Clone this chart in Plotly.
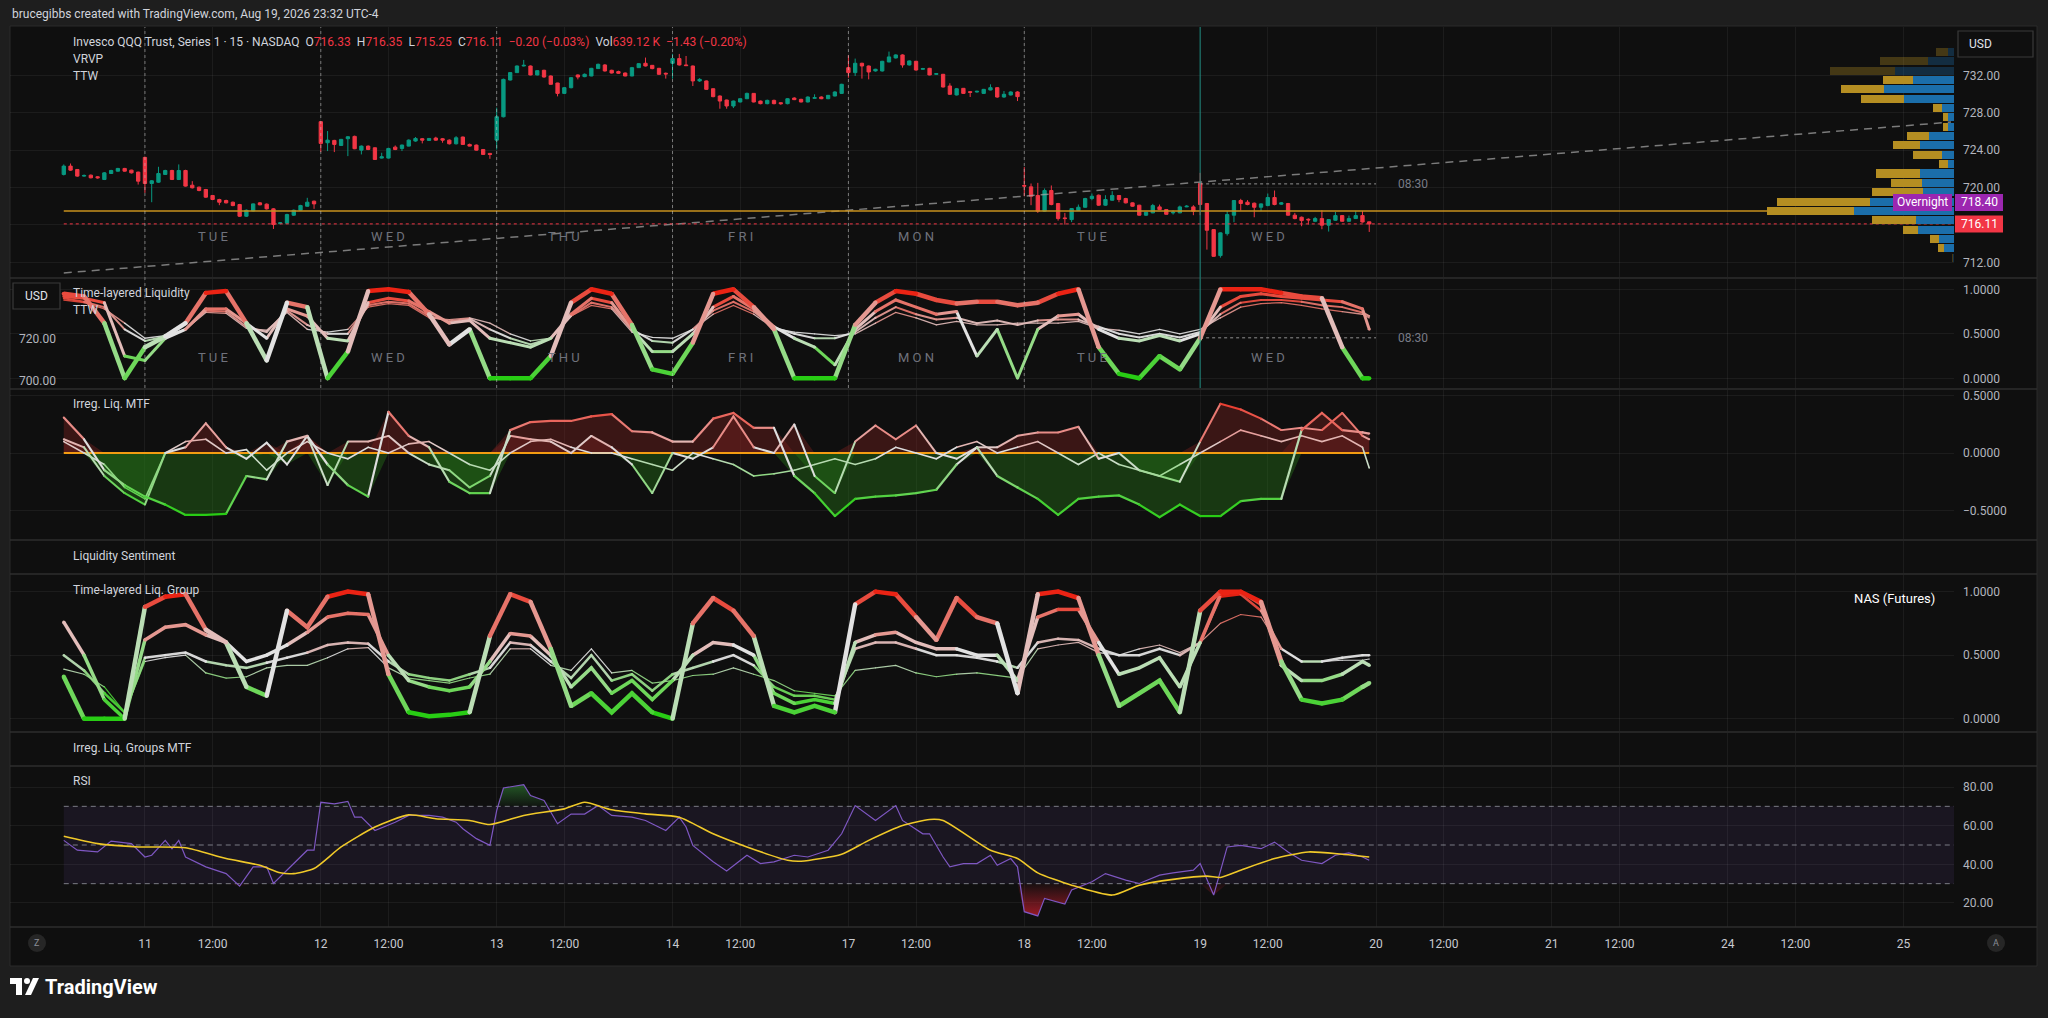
import plotly.graph_objects as go

W, H = 2048, 1018
FONT = "Roboto, 'Noto Sans', sans-serif"
PAGE = "#1e1e1e"
BG = "#0f0f0f"
GRID = "rgba(255,255,255,0.055)"
AXTXT = "#b2b5be"
UP = "#089981"
DN = "#f23645"

# ---------------- price data : QQQ 15-min, regular session (26 bars / day) ----------------
# bar 0 = Aug 10 13:00, bar 12 = Aug 11 09:30, bar 193 = Aug 19 15:45
opens = [721.40, 722.29, 721.93, 721.22, 721.32, 721.15, 720.86, 721.50, 721.75, 722.04,
         721.86, 721.65, 723.22, 720.43, 720.57, 721.40, 721.82, 720.86, 721.82, 720.25,
         720.04, 719.79, 719.15, 718.72, 718.61, 718.43, 718.18, 716.93, 717.50, 718.36,
         718.22, 717.72, 716.15, 716.18, 717.04, 717.57, 718.00, 718.54, 727.04, 724.79,
         725.04, 724.50, 725.22, 725.47, 724.00, 724.43, 724.25, 723.15, 723.15, 724.32,
         724.18, 724.43, 724.97, 725.22, 725.04, 725.29, 725.22, 725.07, 724.68, 725.40,
         724.61, 724.54, 724.07, 723.65, 725.07, 727.57, 731.50, 732.29, 733.00, 733.00,
         732.04, 732.54, 731.93, 731.18, 730.07, 730.68, 732.04, 731.86, 731.93, 732.72,
         733.11, 732.54, 732.40, 732.25, 731.93, 732.82, 733.29, 733.07, 732.75, 732.22,
         733.29, 733.79, 733.11, 733.00, 731.40, 731.40, 730.57, 729.79, 729.36, 728.72,
         729.15, 729.50, 730.07, 729.25, 728.97, 729.32, 729.07, 728.97, 729.57, 729.43,
         729.15, 729.54, 729.68, 729.50, 729.79, 730.07, 732.82, 732.29, 733.29, 733.00,
         732.47, 732.47, 733.43, 733.86, 734.18, 733.11, 733.50, 732.65, 732.75, 732.11,
         732.11, 730.86, 729.90, 730.61, 730.25, 730.22, 730.07, 730.43, 730.68, 729.68,
         729.90, 730.22, 720.22, 720.07, 719.15, 717.47, 719.68, 718.29, 716.75, 716.57,
         717.54, 717.89, 718.82, 719.18, 718.11, 718.64, 719.15, 718.82, 718.36, 718.11,
         717.04, 717.29, 717.93, 717.64, 717.29, 717.29, 717.93, 717.93, 720.43, 718.29,
         715.50, 712.72, 715.07, 717.04, 718.61, 718.43, 718.32, 717.89, 718.07, 718.93,
         718.22, 718.29, 717.04, 716.82, 716.61, 716.39, 716.68, 715.97, 716.50, 717.00,
         716.39, 716.68, 717.00, 716.33]
highs = [722.47, 722.57, 721.97, 721.40, 721.40, 721.22, 721.65, 721.90, 722.10, 722.10,
         721.90, 721.70, 723.30, 720.80, 722.22, 721.90, 721.90, 722.47, 721.90, 720.68,
         720.10, 719.85, 719.20, 718.80, 718.70, 718.50, 718.25, 717.65, 718.30, 718.45,
         718.30, 717.80, 716.30, 717.20, 717.65, 718.15, 718.90, 718.60, 727.10, 726.04,
         725.10, 725.20, 725.50, 725.55, 724.50, 724.50, 724.30, 723.72, 724.25, 724.50,
         724.60, 725.15, 725.40, 725.30, 725.30, 725.43, 725.30, 725.15, 725.50, 725.45,
         724.70, 724.60, 724.10, 723.70, 728.54, 731.65, 732.35, 733.05, 733.65, 733.05,
         732.55, 732.60, 732.00, 731.20, 730.75, 731.80, 732.10, 732.20, 732.80, 733.25,
         733.20, 732.60, 732.50, 732.30, 732.90, 733.30, 733.90, 733.10, 732.80, 732.30,
         734.29, 734.29, 734.07, 733.05, 731.70, 731.45, 730.60, 729.85, 729.40, 729.30,
         729.55, 730.15, 730.10, 729.30, 729.40, 729.40, 729.10, 729.55, 729.65, 729.50,
         729.75, 729.97, 729.75, 729.90, 730.30, 731.10, 734.14, 733.79, 733.35, 733.05,
         732.70, 733.55, 734.54, 734.25, 734.25, 733.60, 733.55, 732.80, 732.80, 732.25,
         732.15, 731.15, 730.65, 730.65, 730.30, 730.35, 730.55, 731.04, 730.75, 730.32,
         730.30, 730.30, 722.18, 720.43, 720.50, 719.90, 720.22, 718.35, 717.29, 717.80,
         718.18, 718.90, 719.36, 719.25, 719.18, 719.61, 719.20, 718.90, 718.40, 718.15,
         717.40, 718.25, 718.18, 717.70, 717.57, 718.07, 718.11, 718.11, 721.57, 718.35,
         715.55, 715.20, 717.47, 718.65, 718.79, 718.65, 718.40, 718.30, 719.36, 719.68,
         718.45, 718.35, 717.29, 716.90, 716.70, 716.86, 717.57, 716.60, 717.39, 717.05,
         717.00, 717.47, 717.50, 716.35]
lows = [721.29, 721.79, 721.15, 721.15, 720.98, 720.95, 720.80, 721.45, 721.70, 721.70,
        721.50, 720.32, 719.43, 718.43, 720.50, 721.35, 720.80, 720.80, 720.10, 719.90,
        719.60, 718.90, 718.65, 718.11, 718.30, 718.00, 716.85, 716.85, 717.45, 718.10,
        717.65, 715.57, 716.05, 716.10, 716.95, 717.50, 717.95, 717.72, 723.79, 723.90,
        723.79, 724.45, 723.36, 724.10, 723.54, 724.00, 722.95, 723.10, 723.10, 724.00,
        723.90, 724.40, 724.90, 724.72, 725.00, 725.00, 724.79, 724.60, 724.60, 724.55,
        724.40, 723.95, 723.50, 723.07, 724.07, 727.50, 731.45, 732.25, 732.95, 732.00,
        732.00, 731.75, 731.00, 729.75, 730.00, 730.60, 731.57, 731.80, 731.90, 732.70,
        732.40, 732.20, 732.15, 731.90, 731.90, 732.80, 732.95, 732.65, 732.05, 731.65,
        731.65, 733.05, 733.00, 730.86, 731.30, 730.45, 729.65, 728.43, 728.43, 728.50,
        729.10, 729.45, 729.10, 728.90, 728.90, 728.90, 728.85, 728.90, 729.35, 729.10,
        729.10, 729.50, 729.45, 729.45, 729.75, 730.00, 731.75, 731.93, 731.65, 731.57,
        732.40, 732.40, 733.40, 733.80, 732.82, 733.05, 732.50, 732.60, 732.00, 732.05,
        730.70, 729.90, 729.85, 730.00, 729.68, 730.15, 730.00, 730.40, 729.60, 729.60,
        729.85, 729.25, 719.07, 718.11, 717.29, 717.40, 718.10, 716.46, 716.04, 716.30,
        717.50, 717.85, 718.64, 718.05, 718.05, 718.60, 718.43, 718.30, 717.95, 717.00,
        716.95, 717.25, 717.60, 717.10, 717.11, 717.25, 717.90, 717.04, 717.04, 713.36,
        712.60, 712.50, 714.86, 716.29, 717.54, 718.10, 716.82, 717.47, 718.00, 718.10,
        718.15, 717.00, 716.60, 715.86, 716.04, 716.30, 715.54, 715.29, 716.45, 716.35,
        716.35, 716.65, 716.25, 715.25]
closes = [722.29, 721.86, 721.22, 721.29, 721.04, 721.04, 721.57, 721.82, 722.04, 721.75,
          721.57, 720.68, 720.43, 720.72, 721.50, 721.82, 720.86, 721.82, 720.15, 719.97,
          719.68, 718.97, 718.72, 718.43, 718.36, 718.07, 716.93, 717.57, 718.25, 718.15,
          717.72, 716.04, 716.22, 717.11, 717.57, 718.07, 718.43, 718.25, 724.72, 725.07,
          724.61, 725.15, 725.43, 724.15, 724.43, 724.07, 723.00, 723.29, 724.18, 724.07,
          724.54, 725.07, 725.25, 725.07, 725.25, 725.07, 725.07, 724.68, 725.32, 724.61,
          724.43, 724.00, 723.54, 723.54, 727.57, 731.57, 732.29, 733.00, 733.07, 732.04,
          732.50, 731.82, 731.04, 730.07, 730.68, 731.75, 731.82, 732.11, 732.75, 733.18,
          732.47, 732.25, 732.22, 731.93, 732.82, 733.25, 733.00, 732.72, 732.11, 732.15,
          733.79, 733.11, 733.04, 731.40, 731.57, 730.50, 729.72, 729.25, 728.72, 729.25,
          729.50, 730.07, 729.15, 728.97, 729.32, 728.97, 728.97, 729.50, 729.40, 729.15,
          729.68, 729.61, 729.50, 729.86, 730.22, 731.04, 732.29, 733.29, 733.00, 732.36,
          732.65, 733.50, 733.97, 734.18, 733.11, 733.54, 732.57, 732.72, 732.04, 732.18,
          730.75, 729.97, 730.57, 730.07, 730.18, 730.29, 730.50, 730.68, 729.68, 729.97,
          730.22, 729.72, 720.15, 719.07, 717.47, 719.68, 718.18, 716.68, 716.68, 717.75,
          717.89, 718.82, 719.07, 718.11, 718.72, 719.15, 718.72, 718.36, 718.00, 717.04,
          717.36, 718.07, 717.64, 717.14, 717.36, 717.93, 718.00, 717.47, 718.18, 715.43,
          712.64, 715.15, 717.11, 718.61, 718.29, 718.18, 717.89, 718.25, 718.93, 718.18,
          718.36, 717.04, 716.68, 716.46, 716.54, 716.68, 715.97, 716.57, 717.00, 716.39,
          716.68, 717.00, 716.31, 716.11]
vol_last = "639.12 K"
vol_change = "-1.43 (-0.20%)"

# sessions / time axis
first_day_bar = 12
bars_per_day = 26
noon_offset = 10
day_labels = ["11", "12", "13", "14", "17", "18", "19", "20", "21", "24", "25"]
weekday_names = ["TUE", "WED", "THU", "FRI", "MON", "TUE", "WED"]

# levels drawn in the price pane
overnight_level = 718.40
open_830_price = 720.39
open_830_ttl = 0.455
trend_x = [0, 279]
trend_y = [710.86, 727.0]

# ---------------- VRVP (visible range volume profile) ----------------
vp_price = [734.5, 733.5, 732.5, 731.5, 730.5, 729.5, 728.5, 727.5, 726.5, 725.5, 724.5, 723.5,
            722.5, 721.5, 720.5, 719.5, 718.5, 717.5, 716.5, 715.5, 714.5, 713.5, 712.5]
vp_up = [17, 77, 177, 123, 210, 150, 36, 18, 18, 74, 102, 36, 18, 102, 96, 93, 252, 300, 114, 108, 45, 30, 3]
vp_down = [37, 145, 195, 90, 129, 129, 27, 15, 15, 67, 81, 87, 27, 132, 93, 153, 279, 261, 132, 45, 27, 18, 3]
va_low, va_high = 713.5, 731.5

# ---------------- indicators (sampled every 3 bars) ----------------
ind_x = list(range(0, 193, 3)) + [193]

tl_a = [0.95, 0.92, 0.62, 0.0, 0.35, 0.47, 0.62, 0.96, 0.98, 0.62,
        0.2, 0.85, 0.8, 0.0, 0.3, 0.98, 1.0, 0.97, 0.72, 0.38,
        0.55, 0.0, 0.0, 0.0, 0.25, 0.85, 1.0, 0.95, 0.6, 0.1,
        0.05, 0.4, 0.95, 1.0, 0.8, 0.55, 0.0, 0.0, 0.0, 0.6,
        0.85, 0.98, 0.95, 0.88, 0.84, 0.86, 0.86, 0.82, 0.85, 0.95,
        1.0, 0.35, 0.05, 0.0, 0.25, 0.1, 0.45, 1.0, 1.0, 1.0,
        0.96, 0.92, 0.9, 0.35, 0.0, 0.0]
tl_b = [0.92, 0.9, 0.85, 0.25, 0.2, 0.45, 0.55, 0.78, 0.78, 0.62,
        0.45, 0.78, 0.7, 0.45, 0.42, 0.85, 0.9, 0.87, 0.75, 0.62,
        0.65, 0.45, 0.4, 0.35, 0.45, 0.72, 0.9, 0.85, 0.55, 0.3,
        0.3, 0.5, 0.8, 0.92, 0.78, 0.58, 0.45, 0.35, 0.15, 0.55,
        0.75, 0.88, 0.8, 0.72, 0.75, 0.25, 0.55, 0.0, 0.55, 0.7,
        0.72, 0.55, 0.45, 0.42, 0.48, 0.42, 0.5, 0.8, 0.92, 0.95,
        0.92, 0.9, 0.88, 0.86, 0.78, 0.55]
tl_c = [0.9, 0.86, 0.8, 0.55, 0.42, 0.47, 0.55, 0.76, 0.75, 0.58,
        0.52, 0.76, 0.6, 0.5, 0.5, 0.82, 0.86, 0.84, 0.7, 0.64,
        0.67, 0.55, 0.45, 0.38, 0.45, 0.7, 0.85, 0.8, 0.55, 0.42,
        0.4, 0.55, 0.76, 0.86, 0.75, 0.57, 0.5, 0.45, 0.45, 0.52,
        0.68, 0.8, 0.72, 0.66, 0.68, 0.62, 0.65, 0.6, 0.65, 0.66,
        0.66, 0.58, 0.5, 0.46, 0.5, 0.46, 0.52, 0.72, 0.85, 0.88,
        0.88, 0.86, 0.82, 0.8, 0.74, 0.7]
tl_d = [0.88, 0.85, 0.78, 0.62, 0.45, 0.48, 0.55, 0.74, 0.73, 0.56,
        0.54, 0.74, 0.55, 0.52, 0.55, 0.8, 0.84, 0.82, 0.68, 0.66,
        0.68, 0.62, 0.5, 0.42, 0.45, 0.7, 0.82, 0.78, 0.52, 0.46,
        0.45, 0.55, 0.72, 0.82, 0.72, 0.56, 0.52, 0.5, 0.48, 0.5,
        0.62, 0.74, 0.68, 0.6, 0.64, 0.6, 0.6, 0.62, 0.62, 0.62,
        0.64, 0.56, 0.54, 0.5, 0.55, 0.5, 0.55, 0.68, 0.8, 0.84,
        0.85, 0.82, 0.78, 0.75, 0.72, 0.68]

irr_a = [0.31, 0.12, -0.15, -0.28, -0.38, -0.45, -0.54, -0.54, -0.53, -0.2,
         -0.23, 0.1, 0.15, -0.1, -0.28, -0.38, 0.36, 0.15, 0.05, -0.25,
         -0.35, -0.35, 0.2, 0.27, 0.28, 0.28, 0.32, 0.34, 0.19, 0.18,
         0.1, 0.1, 0.3, 0.35, 0.22, 0.22, -0.2, -0.35, -0.55, -0.4,
         -0.38, -0.37, -0.35, -0.32, -0.1, 0.05, -0.2, -0.3, -0.4, -0.54,
         -0.4, -0.38, -0.37, -0.45, -0.56, -0.45, -0.55, -0.55, -0.42, -0.4,
         -0.4, 0.2, 0.35, 0.2, 0.18, 0.17]
irr_b = [0.12, 0.05, -0.2, -0.35, -0.45, 0.0, 0.05, 0.26, 0.05, -0.05,
         0.09, -0.1, 0.15, -0.28, 0.1, 0.1, 0.15, 0.0, -0.1, -0.15,
         -0.3, -0.2, 0.15, 0.12, 0.1, 0.0, 0.15, 0.05, -0.1, -0.35,
         0.0, -0.05, 0.05, 0.32, 0.05, 0.0, 0.25, -0.2, -0.35, 0.1,
         0.24, 0.12, 0.24, 0.0, -0.05, 0.05, 0.05, 0.15, 0.18, 0.18,
         0.23, -0.05, 0.0, -0.15, -0.2, -0.25, 0.1, 0.43, 0.38, 0.3,
         0.2, 0.22, 0.2, 0.35, 0.15, 0.12]
irr_c = [0.1, 0.0, -0.1, -0.3, -0.4, 0.0, 0.1, 0.12, 0.0, 0.03,
         -0.15, 0.0, 0.1, 0.0, -0.05, 0.05, 0.0, 0.08, 0.1, 0.0,
         -0.1, -0.15, 0.0, 0.1, 0.12, 0.05, 0.0, 0.0, -0.05, -0.1,
         -0.15, 0.0, -0.05, -0.1, -0.2, -0.18, -0.15, -0.1, -0.05, -0.1,
         -0.05, 0.05, 0.0, -0.05, 0.05, 0.1, 0.0, 0.05, 0.1, 0.0,
         -0.1, 0.0, -0.1, -0.15, -0.2, -0.1, 0.0, 0.1, 0.2, 0.15,
         0.1, 0.15, 0.1, 0.15, 0.05, -0.13]

grp_a = [0.33, 0.0, 0.0, 0.0, 0.88, 0.96, 0.98, 0.7, 0.6, 0.25,
         0.18, 0.85, 0.72, 0.96, 1.0, 0.98, 0.35, 0.05, 0.02, 0.03,
         0.05, 0.65, 0.98, 0.92, 0.55, 0.1, 0.2, 0.05, 0.2, 0.05,
         0.0, 0.75, 0.95, 0.85, 0.65, 0.1, 0.05, 0.1, 0.05, 0.9,
         1.0, 0.98, 0.8, 0.62, 0.95, 0.8, 0.75, 0.2, 0.98, 1.0,
         0.95, 0.5, 0.1, 0.2, 0.3, 0.05, 0.85, 1.0, 1.0, 0.92,
         0.45, 0.15, 0.12, 0.15, 0.25, 0.28]
grp_b = [0.76, 0.5, 0.15, 0.0, 0.62, 0.72, 0.74, 0.66, 0.6, 0.45,
         0.5, 0.58, 0.68, 0.8, 0.83, 0.82, 0.5, 0.3, 0.25, 0.22,
         0.25, 0.45, 0.67, 0.65, 0.5, 0.25, 0.4, 0.2, 0.3, 0.15,
         0.3, 0.5, 0.6, 0.58, 0.5, 0.2, 0.12, 0.15, 0.12, 0.6,
         0.66, 0.68, 0.6, 0.55, 0.55, 0.5, 0.5, 0.3, 0.8, 0.86,
         0.86, 0.6, 0.35, 0.4, 0.48, 0.25, 0.6, 0.98, 1.0, 0.9,
         0.42, 0.3, 0.3, 0.35, 0.45, 0.42]
grp_c = [0.5, 0.38, 0.2, 0.05, 0.48, 0.5, 0.52, 0.45, 0.42, 0.4,
         0.44, 0.48, 0.52, 0.58, 0.6, 0.59, 0.45, 0.35, 0.32, 0.3,
         0.35, 0.4, 0.6, 0.58, 0.45, 0.32, 0.5, 0.3, 0.35, 0.22,
         0.35, 0.4, 0.45, 0.5, 0.42, 0.25, 0.18, 0.18, 0.15, 0.55,
         0.6, 0.6, 0.55, 0.5, 0.5, 0.48, 0.45, 0.4, 0.6, 0.63,
         0.62, 0.55, 0.5, 0.5, 0.55, 0.5, 0.6, 0.96, 0.98, 0.85,
         0.55, 0.45, 0.45, 0.48, 0.5, 0.5]
grp_d = [0.39, 0.35, 0.25, 0.05, 0.45, 0.48, 0.5, 0.36, 0.32, 0.33,
         0.4, 0.42, 0.42, 0.48, 0.55, 0.56, 0.4, 0.32, 0.3, 0.28,
         0.32, 0.35, 0.55, 0.55, 0.42, 0.38, 0.55, 0.36, 0.38, 0.28,
         0.3, 0.34, 0.35, 0.4, 0.35, 0.3, 0.22, 0.2, 0.18, 0.38,
         0.4, 0.42, 0.36, 0.33, 0.35, 0.36, 0.34, 0.32, 0.55, 0.58,
         0.6, 0.52, 0.5, 0.55, 0.58, 0.52, 0.6, 0.75, 0.82, 0.8,
         0.55, 0.45, 0.45, 0.46, 0.46, 0.47]

rsi_x = [0, 2, 5, 7, 10, 12, 13, 15, 16, 17, 18, 21, 24, 26, 28, 30, 31, 34, 36, 37,
         38, 40, 42, 43, 44, 46, 49, 51, 54, 56, 58, 59, 61, 63, 64, 65, 68, 69, 71, 73,
         75, 77, 79, 81, 84, 86, 89, 91, 92, 93, 96, 98, 101, 103, 105, 108, 110, 113, 115, 117,
         120, 123, 124, 127, 128, 130, 131, 133, 135, 137, 138, 140, 141, 142, 144, 145, 148, 149, 152, 154,
         157, 159, 162, 164, 167, 168, 170, 172, 174, 177, 179, 181, 183, 186, 188, 190, 192, 193]
rsi_y = [52.4, 47.3, 46.4, 52.0, 50.7, 43.8, 44.7, 52.4, 48.0, 52.4, 43.8, 38.7, 35.2, 28.7, 38.7, 38.7, 30.1, 40.4, 47.3, 47.3,
         72.1, 71.3, 72.6, 64.4, 64.4, 57.5, 61.8, 65.3, 65.3, 64.4, 61.8, 58.4, 53.3, 49.8, 67.8, 79.5, 81.2, 75.6, 73.0, 61.0,
         66.0, 66.0, 70.4, 65.3, 64.4, 62.7, 57.5, 64.4, 59.3, 49.8, 41.3, 36.6, 44.7, 40.4, 41.3, 44.7, 43.8, 47.3, 55.8, 70.4,
         62.7, 70.4, 62.7, 55.8, 55.8, 43.8, 38.7, 40.4, 40.4, 44.7, 39.5, 43.0, 38.7, 15.5, 13.3, 22.4, 19.5, 26.7, 31.0, 35.2,
         31.8, 30.1, 34.4, 35.6, 37.0, 40.4, 24.1, 49.0, 49.8, 48.1, 51.5, 46.4, 42.1, 40.4, 44.7, 45.9, 43.8, 42.1]
rsi_ma_x = [0, 5, 11, 18, 24, 29, 32, 34, 37, 41, 46, 51, 55, 60, 63, 68, 74, 77, 81, 86, 91, 96,
            101, 107, 109, 115, 119, 124, 128, 130, 137, 141, 144, 149, 155, 159, 164, 169, 171, 174, 179, 184, 189, 193]
rsi_ma_y = [54.5, 50.7, 49.0, 48.6, 43.0, 39.5, 35.6, 35.2, 37.8, 49.0, 59.3, 65.6, 63.6, 62.7, 60.6, 65.3, 68.7, 72.1, 68.2, 66.1, 64.4, 55.8,
            49.0, 42.1, 41.6, 45.2, 52.4, 60.1, 63.2, 62.7, 47.3, 43.0, 35.6, 29.2, 24.1, 29.2, 32.2, 33.9, 33.2, 37.0, 43.0, 46.4, 45.2, 43.8]
rsi_upper, rsi_mid, rsi_lower = 70, 50, 30

# ---------------- layout geometry (pixels of the 2048x1018 page) ----------------
def px(x):
    return x / W

def py(y):
    return 1 - y / H

X_DOM = [px(10), px(1954)]
X_RNG = [-7.95, 279.45]
PANES = {1: (27, 277), 2: (279, 388), 3: (390, 539), 4: (541, 573), 5: (575, 731), 6: (733, 765), 7: (767, 927)}
Y_RNG = {1: [710.43, 737.17], 2: [-0.109, 1.116], 3: [-0.75, 0.55], 4: [0, 1], 5: [-0.097, 1.131], 6: [0, 1], 7: [7.58, 90.35]}

bar_idx = list(range(len(opens)))
day_start = [first_day_bar + k * bars_per_day for k in range(len(day_labels))]
tick_pos, tick_txt = [], []
for s, lab in zip(day_start, day_labels):
    tick_pos.append(s)
    tick_txt.append(lab)
    if s + noon_offset <= X_RNG[1]:
        tick_pos.append(s + noon_offset)
        tick_txt.append("12:00")
shown_sessions = day_start[:len(weekday_names)]


def mfmt(v, d):
    return f"{v:.{d}f}".replace("-", "\u2212")


fig = go.Figure()


def scat(x, y, xa, ya, **kw):
    fig.add_trace(go.Scatter(x=x, y=y, xaxis=xa, yaxis=ya, hoverinfo="skip", showlegend=False, **kw))


def lerp_color(v, stops):
    if v <= stops[0][0]:
        return stops[0][1]
    for (p0, c0), (p1, c1) in zip(stops, stops[1:]):
        if v <= p1:
            t = (v - p0) / (p1 - p0)
            return tuple(round(a + (b - a) * t) for a, b in zip(c0, c1))
    return stops[-1][1]


def grad_line(xs, ys, width, xa, ya, stops, step, alpha=1.0):
    runs, cur_bin, cur = [], None, None
    for k in range(len(xs) - 1):
        b = round(((ys[k] + ys[k + 1]) / 2) / step)
        if b != cur_bin:
            if cur:
                runs.append((cur_bin, cur))
            cur_bin, cur = b, ([xs[k]], [ys[k]])
        cur[0].append(xs[k + 1])
        cur[1].append(ys[k + 1])
    runs.append((cur_bin, cur))
    groups = {}
    for b, (rx, ry) in runs:
        g = groups.setdefault(b, ([], []))
        g[0].extend(rx + [None])
        g[1].extend(ry + [None])
    for b, (gx, gy) in groups.items():
        r, g_, bl = lerp_color(b * step, stops)
        col = f"rgba({r},{g_},{bl},{alpha})"
        scat(gx, gy, xa, ya, mode="lines+markers", line=dict(color=col, width=width),
             marker=dict(color=col, size=width * 0.95))


TL_STOPS = [(0.0, (40, 205, 20)), (0.2, (110, 215, 90)), (0.5, (226, 226, 226)), (0.8, (230, 115, 105)), (1.0, (235, 35, 20))]
IRR_STOPS = [(-0.55, (40, 205, 20)), (-0.25, (125, 215, 110)), (0.0, (222, 222, 222)), (0.2, (232, 140, 135)), (0.45, (235, 45, 30))]

# ---------------- price pane ----------------
vp_total = [u + d for u, d in zip(vp_up, vp_down)]
poc = vp_price[vp_total.index(max(vp_total))]
in_va = [va_low <= p <= va_high for p in vp_price]
fig.add_trace(go.Bar(y=vp_price, x=vp_up, orientation="h", width=0.86, xaxis="x8", yaxis="y",
                     marker=dict(color=["#1b6eaa" if f else "rgba(27,110,170,0.32)" for f in in_va], line=dict(width=0)),
                     hoverinfo="skip", showlegend=False))
fig.add_trace(go.Bar(y=vp_price, x=vp_down, orientation="h", width=0.86, xaxis="x8", yaxis="y",
                     marker=dict(color=["#b58e22" if f else "rgba(181,142,34,0.32)" for f in in_va], line=dict(width=0)),
                     hoverinfo="skip", showlegend=False))

scat(trend_x, trend_y, "x", "y", mode="lines", line=dict(color="rgba(170,170,170,0.7)", width=1.5, dash="8px,6px"))
scat([0, X_RNG[1]], [poc, poc], "x", "y", mode="lines", line=dict(color="#c8921e", width=1.5))
scat([0, X_RNG[1]], [closes[-1], closes[-1]], "x", "y", mode="lines", line=dict(color=DN, width=1, dash="dot"))
scat([shown_sessions[-1], day_start[len(weekday_names)]], [open_830_price, open_830_price], "x", "y",
     mode="lines", line=dict(color="rgba(200,200,200,0.7)", width=1, dash="dot"))

fig.add_trace(go.Candlestick(x=bar_idx, open=opens, high=highs, low=lows, close=closes,
                             increasing=dict(line=dict(color=UP, width=1), fillcolor=UP),
                             decreasing=dict(line=dict(color=DN, width=1), fillcolor=DN),
                             whiskerwidth=0, xaxis="x", yaxis="y", hoverinfo="skip", showlegend=False))

# ---------------- Time-layered Liquidity ----------------
scat([shown_sessions[-1], day_start[len(weekday_names)]], [open_830_ttl, open_830_ttl], "x2", "y2",
     mode="lines", line=dict(color="rgba(200,200,200,0.7)", width=1, dash="dot"))
for ys, w, a in ((tl_d, 1.3, 0.9), (tl_c, 2.0, 0.95), (tl_b, 3.0, 1.0), (tl_a, 4.5, 1.0)):
    grad_line(ind_x, ys, w, "x2", "y2", TL_STOPS, 0.1, a)

# ---------------- Irreg. Liq. MTF ----------------
for ys in (irr_a, irr_b):
    scat(ind_x, [max(v, 0) for v in ys], "x3", "y3", mode="lines", line=dict(width=0),
         fill="tozeroy", fillcolor="rgba(120,34,30,0.42)")
    scat(ind_x, [min(v, 0) for v in ys], "x3", "y3", mode="lines", line=dict(width=0),
         fill="tozeroy", fillcolor="rgba(38,115,24,0.42)")
scat([ind_x[0], ind_x[-1]], [0, 0], "x3", "y3", mode="lines", line=dict(color="#f39c12", width=2))
for ys, w in ((irr_c, 1.6), (irr_b, 2.0), (irr_a, 2.2)):
    grad_line(ind_x, ys, w, "x3", "y3", IRR_STOPS, 0.05)

# ---------------- Time-layered Liq. Group ----------------
for ys, w, a in ((grp_d, 1.2, 0.9), (grp_c, 2.5, 0.95), (grp_b, 3.5, 1.0), (grp_a, 4.5, 1.0)):
    grad_line(ind_x, ys, w, "x5", "y5", TL_STOPS, 0.1, a)

# empty panes
scat([None], [None], "x4", "y4", mode="lines")
scat([None], [None], "x6", "y6", mode="lines")

# ---------------- RSI ----------------
scat(rsi_x, [rsi_upper] * len(rsi_x), "x7", "y7", mode="lines", line=dict(width=0))
scat(rsi_x, [max(v, rsi_upper) for v in rsi_y], "x7", "y7", mode="lines", line=dict(width=0),
     fill="tonexty", fillgradient=dict(type="vertical", start=rsi_upper, stop=84,
                                       colorscale=[[0, "rgba(46,125,50,0.05)"], [1, "rgba(46,125,50,0.8)"]]))
scat(rsi_x, [rsi_lower] * len(rsi_x), "x7", "y7", mode="lines", line=dict(width=0))
scat(rsi_x, [min(v, rsi_lower) for v in rsi_y], "x7", "y7", mode="lines", line=dict(width=0),
     fill="tonexty", fillgradient=dict(type="vertical", start=12, stop=rsi_lower,
                                       colorscale=[[0, "rgba(200,30,45,0.8)"], [1, "rgba(200,30,45,0.05)"]]))
scat(rsi_x, rsi_y, "x7", "y7", mode="lines", line=dict(color="#7e57c2", width=1.2))
scat(rsi_ma_x, rsi_ma_y, "x7", "y7", mode="lines", line=dict(color="#f0c929", width=1.6, shape="spline", smoothing=0.6))

# ---------------- axes ----------------
layout_axes = {}
YTICKS = {
    1: ([712, 716, 720, 724, 728, 732], ["712.00", "", "720.00", "724.00", "728.00", "732.00"]),
    2: ([0, 0.5, 1], [mfmt(v, 4) for v in (0, 0.5, 1)]),
    3: ([-0.5, 0, 0.5], [mfmt(v, 4) for v in (-0.5, 0, 0.5)]),
    4: ([], []),
    5: ([0, 0.5, 1], [mfmt(v, 4) for v in (0, 0.5, 1)]),
    6: ([], []),
    7: ([20, 40, 60, 80], [mfmt(v, 2) for v in (20, 40, 60, 80)]),
}
for k, (top, bot) in PANES.items():
    xs = "xaxis" if k == 1 else f"xaxis{k}"
    ys = "yaxis" if k == 1 else f"yaxis{k}"
    layout_axes[xs] = dict(domain=X_DOM, range=X_RNG, anchor="y" if k == 1 else f"y{k}",
                           tickvals=tick_pos, ticktext=tick_txt, showticklabels=(k == 7),
                           showgrid=True, gridcolor=GRID, gridwidth=1, zeroline=False, showline=False,
                           ticks="", tickfont=dict(size=12, color="#c8cad0", family=FONT),
                           ticklabelstandoff=8, fixedrange=True, rangeslider=dict(visible=False))
    tv, tt = YTICKS[k]
    layout_axes[ys] = dict(domain=[py(bot), py(top)], range=Y_RNG[k], anchor="x" if k == 1 else f"x{k}",
                           side="right", tickvals=tv, ticktext=tt, showgrid=bool(tv), gridcolor=GRID,
                           zeroline=False, showline=False, ticks="", ticklabelstandoff=8,
                           tickfont=dict(size=12, color=AXTXT, family=FONT), fixedrange=True)
VP_FRAC = 187 / 1944
layout_axes["xaxis8"] = dict(overlaying="x", anchor="y", range=[max(vp_total) / VP_FRAC, 0], visible=False,
                             showgrid=False, zeroline=False, fixedrange=True)

# ---------------- shapes ----------------
shapes = []
shapes.append(dict(type="rect", xref="paper", yref="paper", x0=px(10), x1=px(2037), y0=py(966), y1=py(26),
                   fillcolor=BG, line=dict(color="#2a2a2a", width=1), layer="below"))
for yline in (278, 389, 540, 574, 732, 766, 927):
    shapes.append(dict(type="line", xref="paper", yref="paper", x0=px(10), x1=px(2037), y0=py(yline), y1=py(yline),
                       line=dict(color="#2e2e2e", width=1.5), layer="above"))
for s in shown_sessions[:-1]:
    shapes.append(dict(type="line", xref="x", yref="paper", x0=s, x1=s, y0=py(388), y1=py(27),
                       line=dict(color="rgba(200,200,200,0.55)", width=1, dash="dot"), layer="above"))
shapes.append(dict(type="line", xref="x", yref="paper", x0=shown_sessions[-1], x1=shown_sessions[-1],
                   y0=py(388), y1=py(27), line=dict(color="#1c8a7e", width=1), layer="above"))
# RSI band and levels
shapes.append(dict(type="rect", xref="x7", yref="y7", x0=0, x1=X_RNG[1], y0=rsi_lower, y1=rsi_upper,
                   fillcolor="rgba(126,87,194,0.10)", line=dict(width=0), layer="below"))
for lv in (rsi_upper, rsi_mid, rsi_lower):
    shapes.append(dict(type="line", xref="x7", yref="y7", x0=0, x1=X_RNG[1], y0=lv, y1=lv,
                       line=dict(color="rgba(140,142,150,0.85)", width=1, dash="5px,4px"), layer="below"))
# last price / overnight labels
for lvl, x0, x1, col in ((closes[-1], 1955, 2003, DN), (overnight_level, 1955, 2003, "#9c27b0"),
                         (overnight_level, 1893, 1952, "#9c27b0")):
    shapes.append(dict(type="rect", xref="paper", yref="y", x0=px(x0), x1=px(x1), ysizemode="pixel",
                       yanchor=lvl, y0=-8.5, y1=8.5, fillcolor=col, line=dict(width=0), layer="above"))
# USD buttons
for x0, x1, y0, y1 in ((1958, 2033, 31, 57), (13, 60, 283, 309)):
    shapes.append(dict(type="rect", xref="paper", yref="paper", x0=px(x0), x1=px(x1), y0=py(y1), y1=py(y0),
                       fillcolor=BG, line=dict(color="#3a3a3a", width=1.2), layer="above"))
# Z / A buttons
for cx in (37, 1996):
    shapes.append(dict(type="circle", xref="paper", yref="paper", x0=px(cx - 9), x1=px(cx + 9),
                       y0=py(952), y1=py(934), fillcolor="#262626", line=dict(width=0), layer="above"))
# TradingView logo glyph
shapes.append(dict(type="path", xref="paper", yref="paper",
                   path=f"M {px(10)} {py(978)} L {px(22)} {py(978)} L {px(22)} {py(995)} L {px(16)} {py(995)} "
                        f"L {px(16)} {py(984)} L {px(10)} {py(984)} Z",
                   fillcolor="#ffffff", line=dict(width=0), layer="above"))
shapes.append(dict(type="circle", xref="paper", yref="paper", x0=px(24), x1=px(30), y0=py(984), y1=py(978),
                   fillcolor="#ffffff", line=dict(width=0), layer="above"))
shapes.append(dict(type="path", xref="paper", yref="paper",
                   path=f"M {px(25)} {py(995)} L {px(31)} {py(995)} L {px(39)} {py(978)} L {px(33)} {py(978)} Z",
                   fillcolor="#ffffff", line=dict(width=0), layer="above"))

# ---------------- annotations ----------------
anns = []


def T(text, x, y, size=12, color=AXTXT, xa="left", ya="middle", xref="paper", yref="paper", **kw):
    anns.append(dict(text=text, x=px(x) if xref == "paper" else x, y=py(y) if yref == "paper" else y,
                     xref=xref, yref=yref, xanchor=xa, yanchor=ya, showarrow=False,
                     font=dict(size=size, color=color, family=FONT), **kw))


T("brucegibbs created with TradingView.com, Aug 19, 2026 23:32 UTC-4", 10, 14, size=12, color="#d1d4dc")
chg = closes[-1] - closes[-2]
pct = chg / closes[-2] * 100
red = lambda s: f'<span style="color:{DN}">{s}</span>'
legend = ("Invesco QQQ Trust, Series 1 · 15 · NASDAQ\u2002"
          f"O{red(f'{opens[-1]:.2f}')}\u2002H{red(f'{highs[-1]:.2f}')}\u2002L{red(f'{lows[-1]:.2f}')}"
          f"\u2002C{red(f'{closes[-1]:.2f}')}\u2002{red(mfmt(chg, 2) + ' (' + mfmt(pct, 2) + '%)')}"
          f"\u2002Vol{red(vol_last)}\u2002{red(vol_change.replace('-', chr(8722)))}")
T(legend, 71, 42, color="#d1d4dc")
T("VRVP", 71, 59, color="#d1d4dc")
T("TTW", 71, 76, color="#d1d4dc")
T("Time-layered Liquidity", 71, 293, color="#d1d4dc")
T("TTW", 71, 310, color="#d1d4dc")
T("Irreg. Liq. MTF", 71, 404, color="#d1d4dc")
T("Liquidity Sentiment", 71, 556, color="#d1d4dc")
T("Time-layered Liq. Group", 71, 590, color="#d1d4dc")
T("Irreg. Liq. Groups MTF", 71, 748, color="#d1d4dc")
T("RSI", 71, 781, color="#d1d4dc")
T("NAS (Futures)", 1937, 598, size=13, color="#ffffff", xa="right")
T("USD", 1967, 44, size=12, color="#e0e3eb")
T("USD", 36.5, 296, size=12, color="#e0e3eb", xa="center")
T("720.00", 37, 339, size=12, color=AXTXT, xa="center")
T("700.00", 37, 381, size=12, color=AXTXT, xa="center")
T("08:30", 197, open_830_price, size=12, color="#787b86", xref="x", yref="y")
T("08:30", 197, open_830_ttl, size=12, color="#787b86", xref="x", yref="y2")
T(f"{closes[-1]:.2f}", 1979, closes[-1], size=12, color="#ffffff", xa="center", yref="y")
T(f"{overnight_level:.2f}", 1979, overnight_level, size=12, color="#ffffff", xa="center", yref="y")
T("Overnight", 1922.5, overnight_level, size=12, color="#ffffff", xa="center", yref="y")
for s, name in zip(shown_sessions, weekday_names):
    spaced = " ".join(name)
    T(spaced, s + noon_offset, 236, size=13, color="#6f727c", xa="center", xref="x")
    T(spaced, s + noon_offset, 357, size=13, color="#6f727c", xa="center", xref="x")
T("Z", 37, 943, size=9, color="#8a8d96", xa="center")
T("A", 1996, 943, size=9, color="#8a8d96", xa="center")
T("<b>TradingView</b>", 43, 987, size=20, color="#ffffff")

fig.update_layout(width=W, height=H, autosize=False, margin=dict(l=0, r=0, t=0, b=0),
                  paper_bgcolor=PAGE, plot_bgcolor="rgba(0,0,0,0)", barmode="stack",
                  showlegend=False, shapes=shapes, annotations=anns, hovermode=False,
                  font=dict(family=FONT), **layout_axes)

fig.write_html("out.html", config={"displayModeBar": False, "staticPlot": True},
               post_script="document.body.style.margin='0';document.body.style.overflow='hidden';")
